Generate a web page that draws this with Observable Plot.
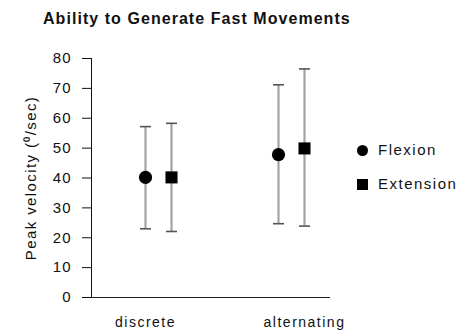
<!DOCTYPE html>
<html>
<head>
<meta charset="utf-8">
<script src="https://cdn.jsdelivr.net/npm/d3@7"></script>
<script src="https://cdn.jsdelivr.net/npm/@observablehq/plot@0.6"></script>
<style>
  html, body { margin: 0; padding: 0; background: #fff; }
  body { width: 465px; height: 336px; position: relative; overflow: hidden; font-family: "Liberation Sans", Arial, sans-serif; color: #111; }
  #title { height: 36px; box-sizing: border-box; padding-left: 43px; padding-top: 9px; font-size: 16px; line-height: 20px; font-weight: bold; letter-spacing: 1.05px; white-space: nowrap; }
  #chart svg { display: block; }
  #chart g[aria-label="y-axis tick label"] text { font-size: 15px; letter-spacing: 1px; }
  #chart g[aria-label="x-axis tick label"] text { font-size: 14px; letter-spacing: 1.5px; }
  #chart g[aria-label="y-axis label"] text { font-size: 15px; letter-spacing: 1.4px; }
  #legend { position: absolute; left: 355px; top: 140px; font-size: 15px; letter-spacing: 1.5px; }
  .item { position: absolute; left: 0; white-space: nowrap; line-height: 20px; height: 20px; }
  .sw { position: absolute; left: 2px; top: 5px; width: 11px; height: 11px; background: #000; }
  .lab { position: absolute; left: 23px; top: 0; }
</style>
</head>
<body>
<div id="title">Ability to Generate Fast Movements</div>
<div id="chart"></div>
<div id="legend"></div>
<script>
// ---- data ----
const categories = ["discrete", "alternating"];
const series = ["Flexion", "Extension"];
const flexionMean = [40.2, 47.8];
const flexionLow = [23.0, 24.7];
const flexionHigh = [57.2, 71.2];
const extensionMean = [40.2, 49.9];
const extensionLow = [22.1, 23.9];
const extensionHigh = [58.3, 76.5];
const yTicks = [0, 10, 20, 30, 40, 50, 60, 70, 80];

const flexion = categories.map((c, i) => ({category: c, mean: flexionMean[i], low: flexionLow[i], high: flexionHigh[i]}));
const extension = categories.map((c, i) => ({category: c, mean: extensionMean[i], low: extensionLow[i], high: extensionHigh[i]}));

// horizontal cap symbol
const cap = { draw(context, size) { const r = Math.sqrt(size / Math.PI); context.moveTo(-r, 0); context.lineTo(r, 0); } };

const off = 13;
const barColor = "#a3a3a3";
const capColor = "#555";

function groupMarks(data, dx, symbol, r) {
  return [
    Plot.ruleX(data, {x: "category", y1: "low", y2: "high", dx, stroke: barColor, strokeWidth: 2.2}),
    Plot.dot(data, {x: "category", y: "high", dx, symbol: cap, r: 5.5, stroke: capColor, strokeWidth: 1.6, fill: "none"}),
    Plot.dot(data, {x: "category", y: "low", dx, symbol: cap, r: 5.5, stroke: capColor, strokeWidth: 1.6, fill: "none"}),
    Plot.dot(data, {x: "category", y: "mean", dx, symbol, r, fill: "#000", stroke: "none"})
  ];
}

const chart = Plot.plot({
  width: 465,
  height: 300,
  marginLeft: 91,
  marginRight: 135,
  marginTop: 22,
  marginBottom: 39,
  style: { fontFamily: "'Liberation Sans', Arial, sans-serif", fontSize: "15px", color: "#111", background: "#fff" },
  x: {
    type: "point",
    domain: categories,
    range: [158, 291],
    padding: 0,
    axis: null
  },
  y: {
    domain: [0, 80],
    ticks: yTicks,
    tickSize: 9,
    tickPadding: 11,
    label: "Peak velocity (\u2070/sec)",
    labelArrow: "none",
    labelAnchor: "center",
    labelOffset: 66,
    line: true
  },
  marks: [
    Plot.ruleY([0], {stroke: "#222", strokeWidth: 1.2}),
    Plot.axisX({ticks: [categories[0]], dx: -off, tickSize: 0, tickPadding: 20, label: null, fontSize: 14}),
    Plot.axisX({ticks: [categories[1]], dx: off, tickSize: 0, tickPadding: 20, label: null, fontSize: 14}),
    ...groupMarks(flexion, -off, "circle", 6.6),
    ...groupMarks(extension, off, "square", 6.8)
  ]
});
document.getElementById("chart").appendChild(chart);

// legend built from the series names
const legend = document.getElementById("legend");
series.forEach((s, i) => {
  const item = document.createElement("div");
  item.className = "item";
  item.style.top = (i * 34) + "px";
  const sw = document.createElement("div");
  sw.className = "sw";
  if (i === 0) sw.style.borderRadius = "50%";
  const lab = document.createElement("div");
  lab.className = "lab";
  lab.textContent = s;
  item.appendChild(sw);
  item.appendChild(lab);
  legend.appendChild(item);
});
</script>
</body>
</html>
